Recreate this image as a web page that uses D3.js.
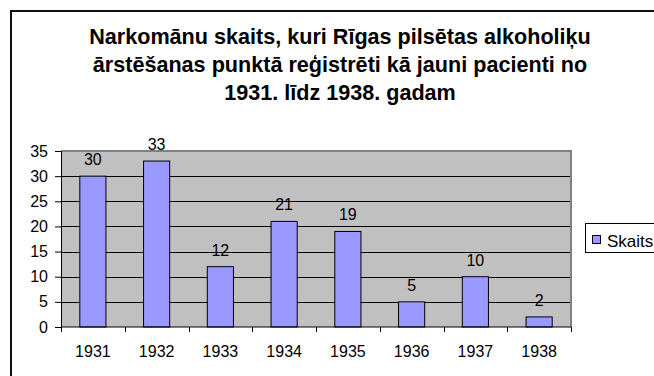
<!DOCTYPE html>
<html>
<head>
<meta charset="utf-8">
<script src="https://cdn.jsdelivr.net/npm/d3@7"></script>
<style>
  html, body { margin: 0; padding: 0; background: #fff; }
  svg { display: block; font-family: "Liberation Sans", Arial, sans-serif; }
</style>
</head>
<body>
<svg id="chart" width="654" height="376"></svg>
<script>
// Chart data
const years = ["1931", "1932", "1933", "1934", "1935", "1936", "1937", "1938"];
const counts = [30, 33, 12, 21, 19, 5, 10, 2];
const yTicks = [0, 5, 10, 15, 20, 25, 30, 35];
const titleLines = [
  "Narkomānu skaits, kuri Rīgas pilsētas alkoholiķu",
  "ārstēšanas punktā reģistrēti kā jauni pacienti no",
  "1931. līdz 1938. gadam"
];
const seriesName = "Skaits";

const svg = d3.select("#chart");
const FONT = 16;

// Outer chart frame (runs past the right and bottom edges of the view)
svg.append("rect")
  .attr("x", 11).attr("y", 11)
  .attr("width", 700).attr("height", 400)
  .attr("fill", "#fff").attr("stroke", "#111").attr("stroke-width", 2);

// Title
svg.append("text")
  .attr("text-anchor", "middle")
  .attr("font-weight", "bold")
  .attr("font-size", 21.6)
  .attr("fill", "#000")
  .selectAll("tspan").data(titleLines).join("tspan")
  .attr("x", 340)
  .attr("y", (d, i) => 44 + i * 28)
  .text(d => d);

const plot = { left: 61, right: 571, top: 151, bottom: 327 };

const x = d3.scaleBand().domain(years)
  .range([plot.left, plot.right]).paddingInner(0.59).paddingOuter(0.295);
const xOuter = d3.scaleBand().domain(years).range([plot.left, plot.right]);
const y = d3.scaleLinear().domain([0, 35]).range([plot.bottom, plot.top]);

// Plot background
svg.append("rect")
  .attr("x", plot.left).attr("y", plot.top)
  .attr("width", plot.right - plot.left).attr("height", plot.bottom - plot.top)
  .attr("fill", "#c0c0c0");

// Horizontal gridlines
svg.append("g").selectAll("line").data(yTicks.filter(t => t > 0 && t < 35)).join("line")
  .attr("x1", plot.left).attr("x2", plot.right)
  .attr("y1", d => Math.round(y(d)) + 0.5).attr("y2", d => Math.round(y(d)) + 0.5)
  .attr("stroke", "#000").attr("stroke-width", 1);

// Plot area border (top and right)
svg.append("path")
  .attr("d", `M${plot.left},${plot.top} H${plot.right} V${plot.bottom}`)
  .attr("fill", "none").attr("stroke", "#808080").attr("stroke-width", 2);

// Bars
svg.append("g").selectAll("rect").data(counts).join("rect")
  .attr("x", (d, i) => x(years[i]))
  .attr("y", d => y(d))
  .attr("width", x.bandwidth())
  .attr("height", d => y(0) - y(d))
  .attr("fill", "#9999ff")
  .attr("stroke", "#000").attr("stroke-width", 1);

// Value labels
svg.append("g").selectAll("text").data(counts).join("text")
  .attr("x", (d, i) => x(years[i]) + x.bandwidth() / 2)
  .attr("y", d => y(d) - 11)
  .attr("text-anchor", "middle")
  .attr("font-size", FONT)
  .attr("fill", "#000")
  .text(d => d);

// Y axis
const yAxis = svg.append("g")
  .attr("transform", `translate(${plot.left},0)`)
  .call(d3.axisLeft(y).tickValues(yTicks).tickSize(6).tickPadding(7));
yAxis.select(".domain").attr("stroke", "#000");
yAxis.selectAll(".tick line").attr("stroke", "#000");
yAxis.selectAll("text").attr("font-size", FONT).attr("font-family", "Liberation Sans, Arial, sans-serif").attr("fill", "#000");

// X axis: baseline, boundary ticks and year labels
svg.append("line")
  .attr("x1", plot.left).attr("x2", plot.right)
  .attr("y1", plot.bottom).attr("y2", plot.bottom)
  .attr("stroke", "#000");
const bounds = years.map(yr => xOuter(yr)).concat([plot.right]);
svg.append("g").selectAll("line").data(bounds).join("line")
  .attr("x1", d => Math.round(d) + 0.5).attr("x2", d => Math.round(d) + 0.5)
  .attr("y1", plot.bottom).attr("y2", plot.bottom + 5)
  .attr("stroke", "#000");
svg.append("g").selectAll("text").data(years).join("text")
  .attr("x", d => xOuter(d) + xOuter.bandwidth() / 2)
  .attr("y", 357)
  .attr("text-anchor", "middle")
  .attr("font-size", FONT)
  .attr("fill", "#000")
  .text(d => d);

// Legend
const legend = svg.append("g");
legend.append("rect")
  .attr("x", 585.5).attr("y", 223.5).attr("width", 120).attr("height", 29)
  .attr("fill", "#fff").attr("stroke", "#000");
legend.append("rect")
  .attr("x", 592.5).attr("y", 235.5).attr("width", 8).attr("height", 8)
  .attr("fill", "#9999ff").attr("stroke", "#000");
legend.append("text")
  .attr("x", 607).attr("y", 246.5)
  .attr("font-size", 17).attr("fill", "#000")
  .text(seriesName);
</script>
</body>
</html>
